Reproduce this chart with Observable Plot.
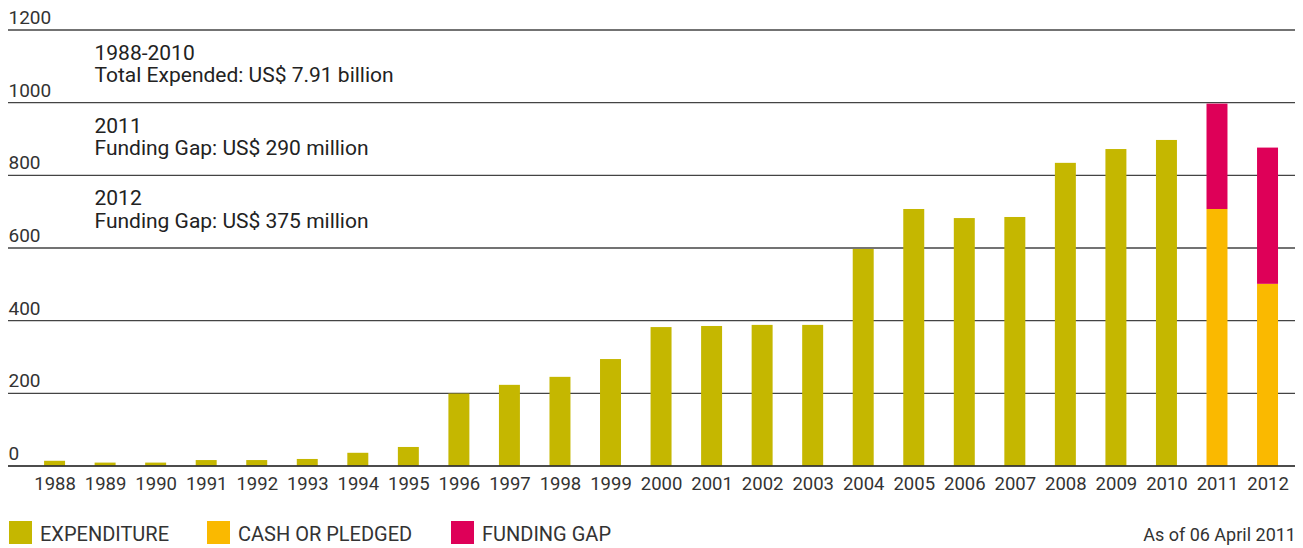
<!DOCTYPE html>
<html>
<head>
<meta charset="utf-8">
<script src="https://cdn.jsdelivr.net/npm/d3@7"></script>
<script src="https://cdn.jsdelivr.net/npm/@observablehq/plot@0.6"></script>
<style>
  html, body { margin: 0; padding: 0; background: #fff; }
  body { width: 1303px; height: 548px; overflow: hidden; font-family: Roboto, "Noto Sans", sans-serif; color: #333; }
  #legend { position: relative; height: 43px; font-size: 20px; }
  .item { position: absolute; top: 14px; display: flex; align-items: center; }
  .sw { width: 23px; height: 23px; margin-right: 8px; }
  .lab { line-height: 23px; padding-top: 4px; }
  #asof { position: absolute; right: 7px; top: 18px; font-size: 18px; line-height: 23px; }
</style>
</head>
<body>
<div id="chart"></div>
<div id="legend"></div>
<script>
const years = ["1988","1989","1990","1991","1992","1993","1994","1995","1996","1997","1998","1999","2000","2001","2002","2003","2004","2005","2006","2007","2008","2009","2010","2011","2012"];
const expenditure = [13, 8, 8, 15, 15, 18, 35, 51, 198, 222, 244, 293, 381, 384, 387, 387, 596, 706, 681, 684, 833, 871, 896, null, null];
const cashOrPledged = [null, null, null, null, null, null, null, null, null, null, null, null, null, null, null, null, null, null, null, null, null, null, null, 706, 500];
const fundingGap = [null, null, null, null, null, null, null, null, null, null, null, null, null, null, null, null, null, null, null, null, null, null, null, 290, 375];
const seriesNames = ["EXPENDITURE", "CASH OR PLEDGED", "FUNDING GAP"];
const seriesColors = ["#c5b700", "#fab900", "#de0058"];
const yTicks = [0, 200, 400, 600, 800, 1000, 1200];
const notes = [
  {y: 1200, text: "1988-2010\nTotal Expended: US$ 7.91 billion"},
  {y: 1000, text: "2011\nFunding Gap: US$ 290 million"},
  {y: 800, text: "2012\nFunding Gap: US$ 375 million"}
];
const asOf = "As of 06 April 2011";

const rows = [];
const seriesArrays = [expenditure, cashOrPledged, fundingGap];
years.forEach((yr, i) => {
  seriesArrays.forEach((arr, s) => {
    if (arr[i] != null) rows.push({year: yr, series: seriesNames[s], value: arr[i]});
  });
});

const chart = Plot.plot({
  width: 1303,
  height: 505,
  marginLeft: 8,
  marginRight: 8,
  marginTop: 29.5,
  marginBottom: 39.5,
  style: {fontFamily: "Roboto, 'Noto Sans', sans-serif", color: "#333", background: "#fff"},
  x: {domain: years, paddingInner: 0.585, paddingOuter: 0.525, align: 0.68, round: false, label: null},
  y: {domain: [0, 1200], axis: null},
  color: {domain: seriesNames, range: seriesColors},
  marks: [
    Plot.ruleY(yTicks.filter(d => d > 0), {stroke: "#444", strokeWidth: 1.3}),
    Plot.barY(rows, {x: "year", y: "value", fill: "series", order: seriesNames}),
    Plot.ruleY([0], {stroke: "#111", strokeWidth: 1.3}),
    Plot.text(yTicks, {y: d => d, text: d => String(d), frameAnchor: "left", textAnchor: "start", lineAnchor: "bottom", dy: -6, fontSize: 19, fill: "#333"}),
    Plot.text(notes, {y: "y", text: "text", frameAnchor: "left", textAnchor: "start", lineAnchor: "top", dx: 86, dy: 14, fontSize: 21, lineHeight: 1.07, fill: "#222"}),
    Plot.axisX({tickSize: 0, tickPadding: 11, fontSize: 18.5, label: null, fill: "#333"})
  ]
});
document.getElementById("chart").appendChild(chart);

const legend = document.getElementById("legend");
const lefts = [9, 207, 451];
seriesNames.forEach((name, i) => {
  const it = document.createElement("div");
  it.className = "item";
  it.style.left = lefts[i] + "px";
  it.innerHTML = `<div class="sw" style="background:${seriesColors[i]}"></div><div class="lab">${name}</div>`;
  legend.appendChild(it);
});
const a = document.createElement("div");
a.id = "asof";
a.textContent = asOf;
legend.appendChild(a);
</script>
</body>
</html>
